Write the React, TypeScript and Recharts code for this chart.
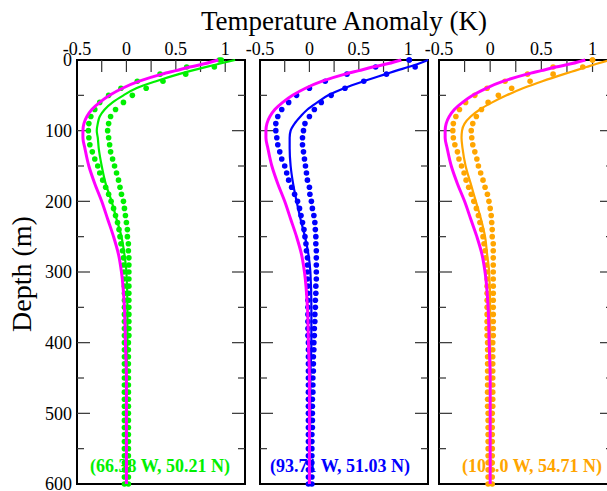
import React from 'react'
import { ScatterChart, Scatter, XAxis, YAxis, ReferenceArea, ReferenceLine } from 'recharts'

// depth levels (m) used for the smooth profiles
const LINE_DEPTHS = [0, 5, 10, 15, 20, 30, 40, 50, 60, 70, 80, 90, 100, 110, 125, 150, 175, 200, 225, 250, 275, 300, 350, 400, 450, 500, 550, 600]

// depth levels (m) of the dotted profiles
const DOT_DEPTHS = [
  0, 10, 20, 30, 40, 50, 60, 70, 80, 90,
  100, 110, 120, 130, 140, 150, 160, 170, 180, 190,
  200, 210, 220, 230, 240, 250, 260, 270, 280, 290,
  300, 310, 320, 330, 340, 350, 360, 370, 380, 390,
  400, 410, 420, 430, 440, 450, 460, 470, 480, 490,
  500, 510, 520, 530, 540, 550, 560, 570, 580, 590, 600,
]

// reference profile (magenta), same in every panel
const MAGENTA = [0.93, 0.8, 0.64, 0.5, 0.36, 0.13, -0.04, -0.17, -0.27, -0.35, -0.4, -0.43, -0.44, -0.44, -0.42, -0.38, -0.32, -0.25, -0.19, -0.13, -0.08, -0.05, -0.02, -0.01, 0, 0, 0, 0]

// site profiles (solid lines)
const GREEN_LINE = [1.1, 0.95, 0.8, 0.66, 0.53, 0.3, 0.1, -0.03, -0.14, -0.22, -0.27, -0.29, -0.3, -0.29, -0.28, -0.25, -0.21, -0.15, -0.1, -0.05, -0.02, 0, 0.01, 0.01, 0, 0, 0, 0]
const BLUE_LINE = [1.2, 1.11, 1.0, 0.88, 0.77, 0.55, 0.35, 0.19, 0.08, -0.02, -0.09, -0.15, -0.19, -0.2, -0.2, -0.19, -0.165, -0.13, -0.09, -0.045, -0.01, 0.01, 0.02, 0.02, 0.01, 0.01, 0, 0]
const ORANGE_LINE = [1.17, 1.05, 0.94, 0.83, 0.72, 0.51, 0.32, 0.16, 0.02, -0.1, -0.19, -0.25, -0.275, -0.28, -0.27, -0.24, -0.19, -0.14, -0.09, -0.05, -0.03, -0.01, 0, 0, 0, 0, 0, 0]

// dotted bounds (upper / lower)
const GREEN_HI = [
  0.96, 0.89, 0.6, 0.37, 0.2, 0.06, -0.03, -0.11, -0.16, -0.18,
  -0.19, -0.18, -0.17, -0.16, -0.14, -0.12, -0.1, -0.08, -0.065, -0.05,
  -0.03, -0.02, -0.01, 0, 0.01, 0.01, 0.02, 0.02, 0.025, 0.025,
  0.025, 0.025, 0.025, 0.025, 0.025, 0.025, 0.025, 0.025, 0.025, 0.025,
  0.02, 0.02, 0.02, 0.02, 0.02, 0.02, 0.02, 0.02, 0.02, 0.02,
  0.02, 0.02, 0.02, 0.02, 0.02, 0.02, 0.02, 0.02, 0.02, 0.02, 0.02,
]
const GREEN_LO = [
  0.94, 0.61, 0.34, 0.11, -0.055, -0.18, -0.27, -0.32, -0.36, -0.38,
  -0.385, -0.38, -0.37, -0.345, -0.32, -0.29, -0.27, -0.24, -0.21, -0.18,
  -0.155, -0.13, -0.11, -0.09, -0.075, -0.065, -0.055, -0.04, -0.03, -0.03,
  -0.025, -0.025, -0.02, -0.02, -0.02, -0.02, -0.02, -0.02, -0.02, -0.02,
  -0.02, -0.02, -0.02, -0.02, -0.02, -0.02, -0.02, -0.02, -0.02, -0.02,
  -0.02, -0.02, -0.02, -0.02, -0.02, -0.02, -0.02, -0.02, -0.02, -0.02, -0.02,
]
const BLUE_HI = [
  1.01, 1.07, 0.78, 0.55, 0.36, 0.22, 0.12, 0.05, 0, -0.045,
  -0.06, -0.07, -0.07, -0.06, -0.05, -0.04, -0.03, -0.02, 0, 0.005,
  0.02, 0.03, 0.045, 0.055, 0.06, 0.065, 0.065, 0.07, 0.07, 0.07,
  0.07, 0.07, 0.065, 0.065, 0.06, 0.06, 0.055, 0.055, 0.05, 0.05,
  0.045, 0.045, 0.04, 0.04, 0.04, 0.035, 0.035, 0.035, 0.03, 0.03,
  0.03, 0.03, 0.03, 0.025, 0.025, 0.025, 0.025, 0.025, 0.025, 0.025, 0.025,
]
const BLUE_LO = [
  1.01, 0.67, 0.38, 0.16, 0, -0.13, -0.21, -0.28, -0.32, -0.34,
  -0.34, -0.33, -0.32, -0.3, -0.28, -0.25, -0.23, -0.21, -0.18, -0.15,
  -0.12, -0.1, -0.085, -0.07, -0.055, -0.045, -0.035, -0.03, -0.02, -0.02,
  -0.02, -0.02, -0.015, -0.015, -0.015, -0.015, -0.015, -0.015, -0.015, -0.015,
  -0.01, -0.01, -0.01, -0.01, -0.01, -0.01, -0.01, -0.01, -0.01, -0.01,
  -0.01, -0.01, -0.01, -0.01, -0.01, -0.01, -0.01, -0.01, -0.01, -0.01, -0.01,
]
const ORANGE_HI = [
  1.0, 0.905, 0.615, 0.39, 0.21, 0.08, -0.02, -0.085, -0.135, -0.17,
  -0.185, -0.18, -0.17, -0.15, -0.13, -0.115, -0.093, -0.07, -0.05, -0.027,
  -0.012, 0, 0.01, 0.015, 0.02, 0.02, 0.03, 0.03, 0.03, 0.03,
  0.03, 0.03, 0.03, 0.03, 0.03, 0.03, 0.03, 0.03, 0.03, 0.03,
  0.025, 0.025, 0.025, 0.025, 0.025, 0.025, 0.025, 0.025, 0.025, 0.025,
  0.02, 0.02, 0.02, 0.02, 0.02, 0.02, 0.02, 0.02, 0.02, 0.02, 0.02,
]
const ORANGE_LO = [
  1.0, 0.615, 0.365, 0.145, -0.03, -0.15, -0.24, -0.3, -0.335, -0.36,
  -0.365, -0.36, -0.345, -0.32, -0.305, -0.28, -0.255, -0.235, -0.21, -0.185,
  -0.16, -0.135, -0.115, -0.1, -0.083, -0.07, -0.06, -0.05, -0.045, -0.037,
  -0.034, -0.03, -0.03, -0.03, -0.03, -0.03, -0.03, -0.03, -0.03, -0.03,
  -0.025, -0.025, -0.025, -0.025, -0.025, -0.025, -0.025, -0.025, -0.025, -0.025,
  -0.02, -0.02, -0.02, -0.02, -0.02, -0.02, -0.02, -0.02, -0.02, -0.02, -0.02,
]

const X_LABELS = [-0.5, 0, 0.5, 1]
const X_TICKS = [-0.25, 0, 0.25, 0.5, 0.75, 1]
const Y_LABELS = [0, 100, 200, 300, 400, 500, 600]
const Y_MAJOR = [100, 200, 300, 400, 500]
const Y_MINOR = [50, 150, 250, 350, 450, 550]

const FONT = '"Liberation Serif", "DejaVu Serif", serif'
const W = 607
const H = 491
const TOP = 60
const BOTTOM = 484
const PAD = 40
const X_MIN = -0.5
const X_MAX = 1.2

const MAGENTA_C = '#ff00ff'

const pts = (vals: number[], depths: number[]) => vals.map((v, i) => ({ v, d: depths[i] }))

const dotShape = (color: string) => (p: any) => <circle cx={p.cx} cy={p.cy} r={2.8} fill={color} />
const noShape = () => <g />

interface PanelProps {
  left: number
  width: number
  color: string
  line: number[]
  hi: number[]
  lo: number[]
  showY?: boolean
}

const Panel: React.FC<PanelProps> = ({ left, width, color, line, hi, lo, showY }) => {
  const pxPerUnit = width / (X_MAX - X_MIN)
  const pxPerM = (BOTTOM - TOP) / 600
  const major = 13 / pxPerUnit
  const minor = 7 / pxPerUnit
  const xTickLen = 12 / pxPerM
  const yW = showY ? PAD : 0
  const tickStroke = '#333'

  return (
    <div style={{ position: 'absolute', left: left - PAD, top: 0 }}>
      <ScatterChart
        width={width + 2 * PAD}
        height={H}
        margin={{ top: TOP - 30, bottom: H - BOTTOM, left: PAD - yW, right: PAD }}
      >
        <XAxis
          type="number"
          dataKey="v"
          orientation="top"
          domain={[X_MIN, X_MAX]}
          ticks={X_LABELS}
          interval={0}
          height={30}
          tickLine={false}
          axisLine={false}
          tickSize={0}
          tickMargin={5}
          tick={{ fill: '#000', fontSize: 18, fontFamily: FONT }}
        />
        <YAxis
          type="number"
          dataKey="d"
          domain={[0, 600]}
          reversed
          ticks={Y_LABELS}
          interval={0}
          width={yW}
          hide={!showY}
          tickLine={false}
          axisLine={false}
          tickSize={0}
          tickMargin={5}
          tick={{ fill: '#000', fontSize: 18, fontFamily: FONT }}
        />

        {Y_MAJOR.map((d) => (
          <ReferenceLine key={'lM' + d} segment={[{ x: X_MIN, y: d }, { x: X_MIN + major, y: d }]} stroke={tickStroke} strokeWidth={1.2} />
        ))}
        {Y_MAJOR.map((d) => (
          <ReferenceLine key={'rM' + d} segment={[{ x: X_MAX - major, y: d }, { x: X_MAX, y: d }]} stroke={tickStroke} strokeWidth={1.2} />
        ))}
        {Y_MINOR.map((d) => (
          <ReferenceLine key={'lm' + d} segment={[{ x: X_MIN, y: d }, { x: X_MIN + minor, y: d }]} stroke={tickStroke} strokeWidth={1.2} />
        ))}
        {Y_MINOR.map((d) => (
          <ReferenceLine key={'rm' + d} segment={[{ x: X_MAX - minor, y: d }, { x: X_MAX, y: d }]} stroke={tickStroke} strokeWidth={1.2} />
        ))}
        {X_TICKS.map((v) => (
          <ReferenceLine key={'t' + v} segment={[{ x: v, y: 0 }, { x: v, y: xTickLen }]} stroke={tickStroke} strokeWidth={1.2} />
        ))}

        <Scatter data={pts(hi, DOT_DEPTHS)} shape={dotShape(color)} isAnimationActive={false} />
        <Scatter data={pts(lo, DOT_DEPTHS)} shape={dotShape(color)} isAnimationActive={false} />
        <Scatter
          data={pts(line, LINE_DEPTHS)}
          line={{ stroke: color, strokeWidth: 2.2 }}
          lineJointType="monotoneY"
          shape={noShape}
          isAnimationActive={false}
        />
        <Scatter
          data={pts(MAGENTA, LINE_DEPTHS)}
          line={{ stroke: MAGENTA_C, strokeWidth: 3 }}
          lineJointType="monotoneY"
          shape={noShape}
          isAnimationActive={false}
        />

        <ReferenceArea x1={X_MIN} x2={X_MAX} y1={0} y2={600} fill="none" fillOpacity={0} stroke="#000" strokeWidth={2} />
      </ScatterChart>
    </div>
  )
}

const App: React.FC = () => {
  return (
    <div style={{ position: 'fixed', left: 0, top: 0, width: W, height: H, overflow: 'hidden', background: '#fff' }}>
      <svg width={W} height={H} style={{ position: 'absolute', left: 0, top: 0 }} fontFamily={FONT}>
        <text x={344} y={30} fontSize={27} textAnchor="middle" fill="#000">
          Temperature Anomaly (K)
        </text>
        <text transform="translate(31,274) rotate(-90)" fontSize={28} textAnchor="middle" fill="#000">
          Depth (m)
        </text>
        <text x={160} y={472} fontSize={18} fontWeight="bold" textAnchor="middle" fill="#00f000">
          (66.38 W, 50.21 N)
        </text>
        <text x={340} y={472} fontSize={18} fontWeight="bold" textAnchor="middle" fill="#0000ff">
          (93.71 W, 51.03 N)
        </text>
        <text x={532} y={472} fontSize={18} fontWeight="bold" textAnchor="middle" fill="#ffa500">
          (102.0 W, 54.71 N)
        </text>
      </svg>
      <Panel left={77} width={168} color="#00f000" line={GREEN_LINE} hi={GREEN_HI} lo={GREEN_LO} showY />
      <Panel left={260} width={168} color="#0000ff" line={BLUE_LINE} hi={BLUE_HI} lo={BLUE_LO} />
      <Panel left={439} width={174} color="#ffa500" line={ORANGE_LINE} hi={ORANGE_HI} lo={ORANGE_LO} />
    </div>
  )
}

export default App
